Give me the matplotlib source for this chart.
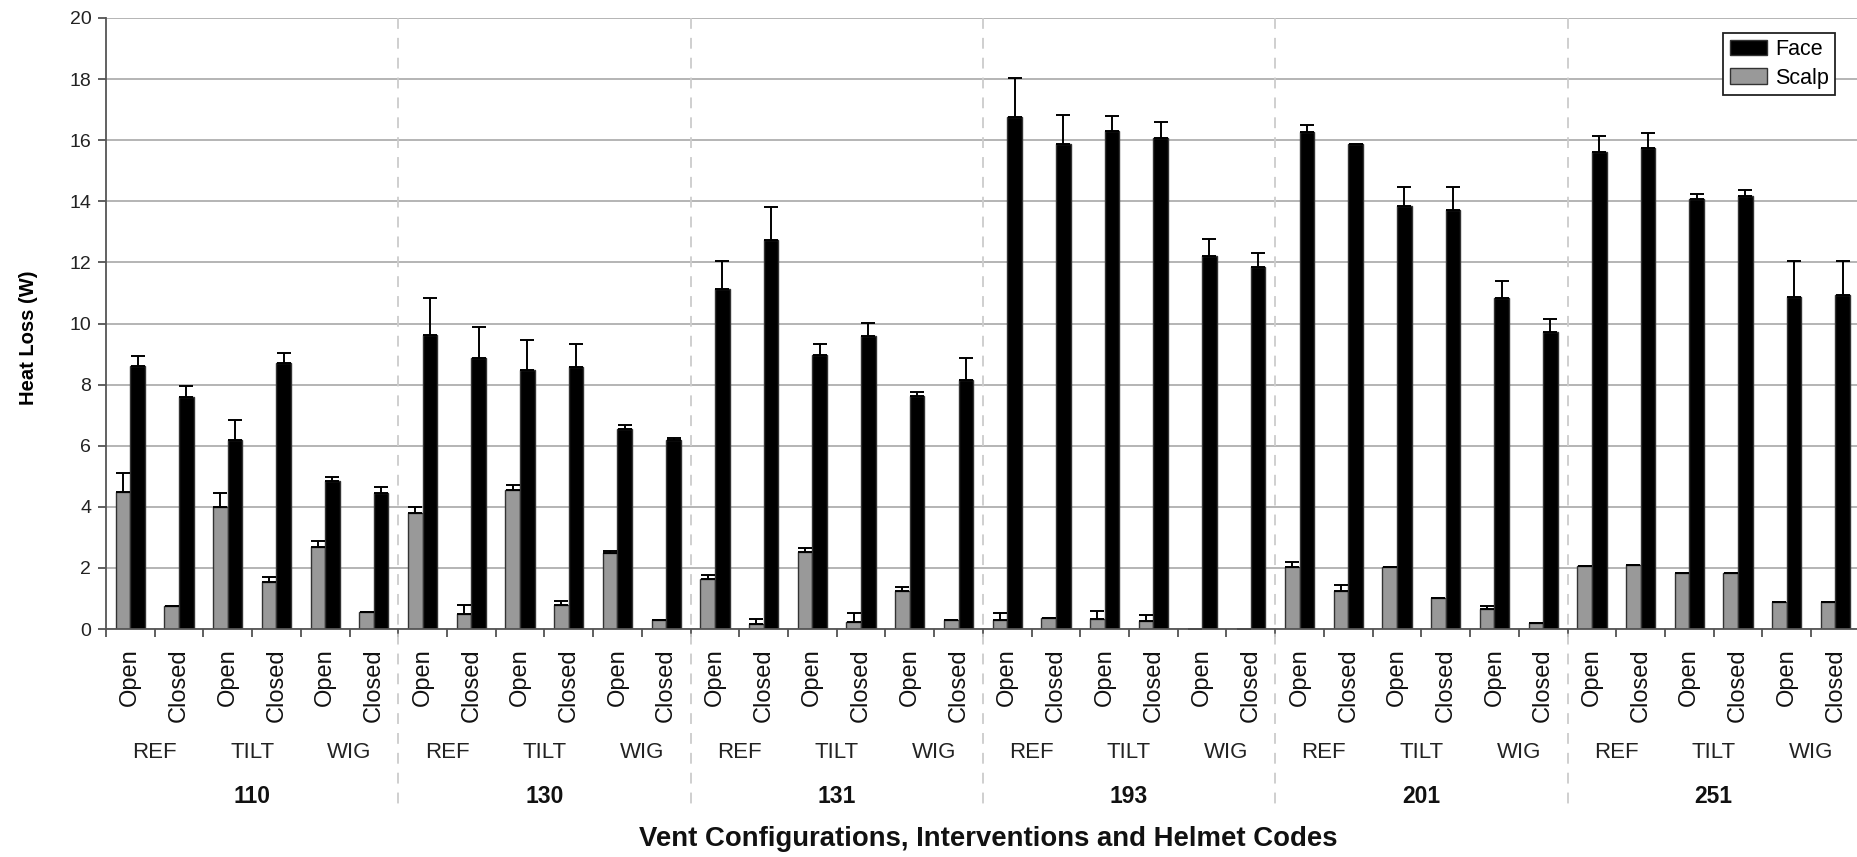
import numpy as np
import matplotlib
matplotlib.use("Agg")
import matplotlib.pyplot as plt
from matplotlib.transforms import blended_transform_factory

plt.rcParams['font.family'] = ['Liberation Sans', 'DejaVu Sans']

helmets = ["110", "130", "131", "193", "201", "251"]
interventions = ["REF", "TILT", "WIG"]
vents = ["Open", "Closed"]

# heat loss per configuration (W), helmet -> intervention -> vent
face = [8.61, 7.61, 6.18, 8.71, 4.86, 4.46,
        9.61, 8.87, 8.47, 8.57, 6.56, 6.18,
        11.14, 12.73, 8.98, 9.59, 7.63, 8.15,
        16.77, 15.86, 16.30, 16.06, 12.20, 11.85,
        16.27, 15.87, 13.85, 13.73, 10.83, 9.71,
        15.62, 15.73, 14.08, 14.17, 10.88, 10.94]
face_err = [0.33, 0.35, 0.66, 0.34, 0.13, 0.18,
            1.22, 1.03, 0.99, 0.76, 0.12, 0.07,
            0.90, 1.09, 0.36, 0.43, 0.13, 0.71,
            1.26, 0.98, 0.48, 0.52, 0.55, 0.45,
            0.23, 0.00, 0.61, 0.75, 0.57, 0.43,
            0.51, 0.50, 0.16, 0.19, 1.17, 1.11]
scalp = [4.50, 0.74, 3.99, 1.55, 2.69, 0.55,
         3.80, 0.50, 4.54, 0.80, 2.49, 0.30,
         1.64, 0.17, 2.52, 0.24, 1.23, 0.28,
         0.28, 0.35, 0.34, 0.27, 0.00, 0.00,
         2.04, 1.23, 2.03, 1.00, 0.66, 0.20,
         2.07, 2.10, 1.83, 1.85, 0.89, 0.89]
scalp_err = [0.62, 0.00, 0.46, 0.15, 0.20, 0.00,
             0.19, 0.30, 0.17, 0.12, 0.08, 0.00,
             0.13, 0.15, 0.12, 0.29, 0.16, 0.00,
             0.25, 0.00, 0.24, 0.19, 0.00, 0.00,
             0.14, 0.20, 0.00, 0.00, 0.08, 0.00,
             0.00, 0.00, 0.00, 0.00, 0.00, 0.00]

n = len(face)
x = np.arange(n) + 0.5
w = 0.3

fig = plt.figure(figsize=(18.58, 8.57), dpi=100)
ax = fig.add_axes([0.057, 0.266, 0.944, 0.713])

ax.yaxis.grid(True, color="#a0a0a0", linewidth=1.1)
ax.set_axisbelow(True)

ekw = dict(ecolor="black", elinewidth=1.4, capsize=5, capthick=1.4)
zeros = np.zeros(n)
ax.bar(x - w / 2, scalp, w, color="#999999", edgecolor="#333333", linewidth=1,
       yerr=[zeros, scalp_err], error_kw=ekw, label="Scalp", zorder=2)
ax.bar(x + w / 2, face, w, color="black", edgecolor="#333333", linewidth=1,
       yerr=[zeros, face_err], error_kw=ekw, label="Face", zorder=2)

ax.set_xlim(0, n)
ax.set_ylim(0, 20)
ax.set_yticks(np.arange(0, 21, 2))
ax.tick_params(axis="y", labelsize=14, length=6, color="#444444", width=1.2,
               pad=4.5, labelcolor="#222222")

# boundary ticks without labels, vent labels at bar centres
ax.set_xticks(np.arange(0, n + 1))
ax.set_xticklabels([])
ax.tick_params(axis="x", which="major", length=6, color="#444444", width=1.2)
ax.set_xticks(x, minor=True)
ax.set_xticklabels(vents * (n // 2), minor=True, rotation=90, fontsize=17)
ax.tick_params(axis="x", which="minor", length=0, pad=14, labelcolor="#111111")

for s in ["top", "right"]:
    ax.spines[s].set_visible(False)
for s in ["left", "bottom"]:
    ax.spines[s].set_color("#555555")
    ax.spines[s].set_linewidth(1.3)

trans = blended_transform_factory(ax.transData, ax.transAxes)
for i, h in enumerate(helmets):
    for j, iv in enumerate(interventions):
        ax.text(i * 6 + j * 2 + 1, -0.202, iv, transform=trans, ha="center",
                va="center", fontsize=16, color="#222222")
    ax.text(i * 6 + 3, -0.274, h, transform=trans, ha="center", va="center",
            fontsize=16.5, fontweight="bold", color="#111111")
    if i > 0:
        ax.plot([i * 6, i * 6], [1.0, -0.29], transform=trans, color="#cccccc",
                linestyle=(0, (6, 5)), linewidth=1.3, clip_on=False, zorder=1)

fig.text(0.532, 0.0205, "Vent Configurations, Interventions and Helmet Codes",
         ha="center", va="center", fontsize=19.8, fontweight="bold",
         color="#111111")

ax.set_ylabel("Heat Loss (W)", fontsize=14.5, fontweight="bold", va="center")
ax.yaxis.set_label_coords(-0.0442, 0.476)

handles, labels = ax.get_legend_handles_labels()
leg = ax.legend(handles[::-1], labels[::-1], loc="upper right",
                bbox_to_anchor=(0.986, 0.976), fontsize=15.5, frameon=True,
                fancybox=False, edgecolor="#222222", framealpha=1,
                handlelength=1.75, handleheight=0.75, borderpad=0.3,
                labelspacing=0.35, handletextpad=0.35, borderaxespad=0)
leg.get_frame().set_linewidth(1.3)

fig.savefig("out.png", dpi=100)
